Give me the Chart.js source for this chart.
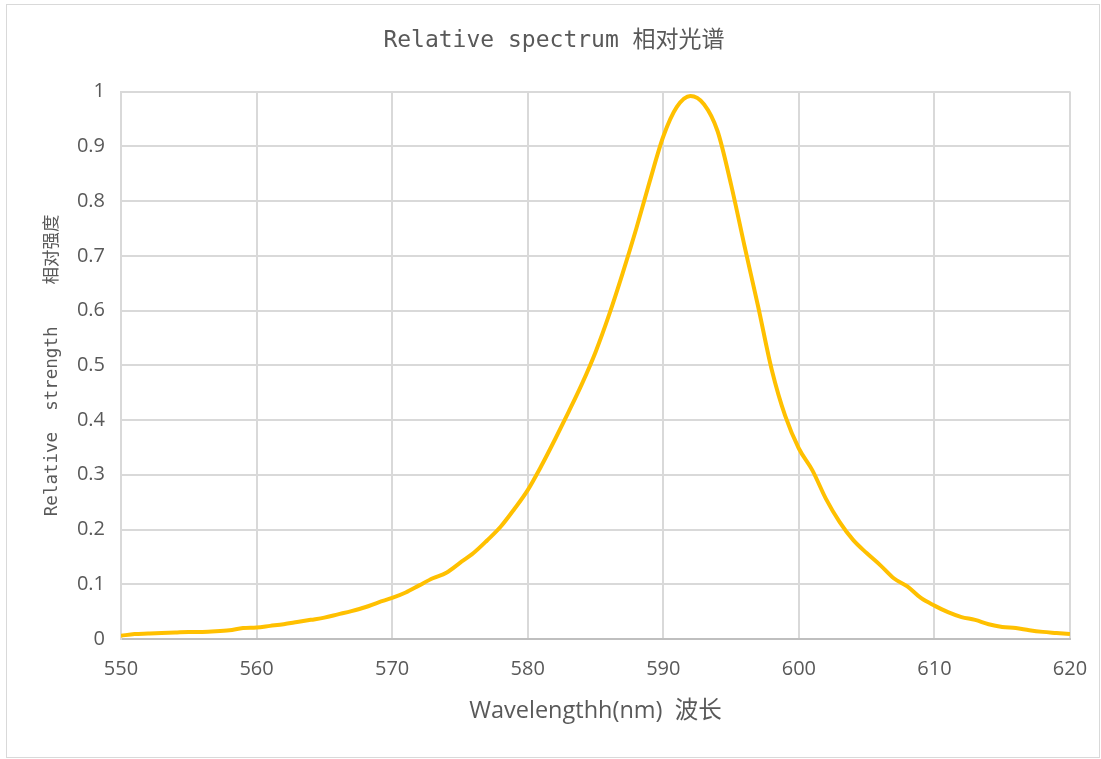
<!DOCTYPE html>
<html>
<head>
<meta charset="utf-8">
<script src="https://cdn.jsdelivr.net/npm/chart.js@4/dist/chart.umd.min.js"></script>
<style>
    body { margin: 0; background: #fff; }
    #frame { position: absolute; left: 6px; top: 4px; width: 1092px; height: 752px; border: 1px solid #d9d9d9; }
    #chart { position: absolute; left: 0; top: 0; }
</style>
</head>
<body>
<div id="frame"></div>
<canvas id="chart" width="1101" height="759"></canvas>
<script>
    var wavelengths = [550, 551, 552, 553, 554, 555, 556, 557, 558, 559,
        560, 561, 562, 563, 564, 565, 566, 567, 568, 569,
        570, 571, 572, 573, 574, 575, 576, 577, 578, 579,
        580, 581, 582, 583, 584, 585, 586, 587, 588, 589,
        590, 591, 592, 593, 594, 595, 596, 597, 598, 599,
        600, 601, 602, 603, 604, 605, 606, 607, 608, 609,
        610, 611, 612, 613, 614, 615, 616, 617, 618, 619, 620];
    var strength = [0.006, 0.009, 0.010, 0.011, 0.012, 0.013, 0.013, 0.014, 0.016, 0.020,
        0.021, 0.024, 0.027, 0.031, 0.035, 0.039, 0.045, 0.051, 0.058, 0.067,
        0.075, 0.085, 0.098, 0.111, 0.121, 0.139, 0.157, 0.180, 0.205, 0.237,
        0.272, 0.316, 0.364, 0.414, 0.466, 0.524, 0.592, 0.668, 0.749, 0.836,
        0.918, 0.972, 0.992, 0.977, 0.928, 0.830, 0.717, 0.607, 0.492, 0.407,
        0.348, 0.308, 0.256, 0.214, 0.181, 0.157, 0.135, 0.111, 0.096, 0.075,
        0.061, 0.049, 0.040, 0.035, 0.027, 0.022, 0.020, 0.016, 0.013, 0.011, 0.009];
    var xTicks = [550, 560, 570, 580, 590, 600, 610, 620];
    var yTicks = [0, 0.1, 0.2, 0.3, 0.4, 0.5, 0.6, 0.7, 0.8, 0.9, 1];

    var points = [];
    for (var i = 0; i < wavelengths.length; i++) {
        points.push({ x: wavelengths[i], y: strength[i] });
    }

    var grey = '#595959';
    var monoFont = '"DejaVu Sans Mono", "Noto Sans CJK SC", monospace';
    var sansFont = '"Open Sans", "Noto Sans CJK SC", sans-serif';

    new Chart(document.getElementById('chart'), {
        type: 'line',
        data: {
            datasets: [{
                data: points,
                borderColor: '#FFC000',
                borderWidth: 4,
                pointRadius: 0,
                cubicInterpolationMode: 'monotone',
                fill: false
            }]
        },
        options: {
            responsive: false,
            animation: false,
            layout: { padding: { left: 7, right: 0, top: 0, bottom: 0 } },
            plugins: {
                legend: { display: false },
                tooltip: { enabled: false },
                title: {
                    display: true,
                    text: 'Relative spectrum 相对光谱',
                    color: grey,
                    font: { family: monoFont, size: 23, weight: 'normal' },
                    padding: { top: 27, bottom: 37 }
                }
            },
            scales: {
                x: {
                    type: 'linear',
                    min: 550,
                    max: 620,
                    afterBuildTicks: function (scale) {
                        scale.ticks = xTicks.map(function (v) { return { value: v }; });
                    },
                    afterFit: function (scale) {
                        scale.height = 120;
                        scale.paddingLeft = 0;
                        scale.paddingRight = 31;
                    },
                    grid: { color: '#d9d9d9', lineWidth: 2, drawTicks: false },
                    border: { color: '#bfbfbf', width: 2 },
                    ticks: { color: grey, font: { family: sansFont, size: 20 }, padding: 18, maxRotation: 0 },
                    title: {
                        display: true,
                        text: 'Wavelengthh(nm)  波长',
                        color: grey,
                        font: { family: sansFont, size: 23.5 },
                        padding: { top: 0, bottom: 34 }
                    }
                },
                y: {
                    min: 0,
                    max: 1,
                    afterBuildTicks: function (scale) {
                        scale.ticks = yTicks.map(function (v) { return { value: v }; });
                    },
                    afterFit: function (scale) { scale.width = 114; },
                    grid: { color: '#d9d9d9', lineWidth: 2, drawTicks: false },
                    border: { color: '#d9d9d9', width: 2 },
                    ticks: {
                        color: grey,
                        font: { family: sansFont, size: 20 },
                        padding: 16,
                        callback: function (v) { return String(Math.round(v * 10) / 10); }
                    },
                    title: {
                        display: true,
                        text: 'Relative  strength    相对强度',
                        color: grey,
                        font: { family: monoFont, size: 17.5 },
                        padding: { top: 35, bottom: 0 }
                    }
                }
            }
        }
    });
</script>
</body>
</html>
